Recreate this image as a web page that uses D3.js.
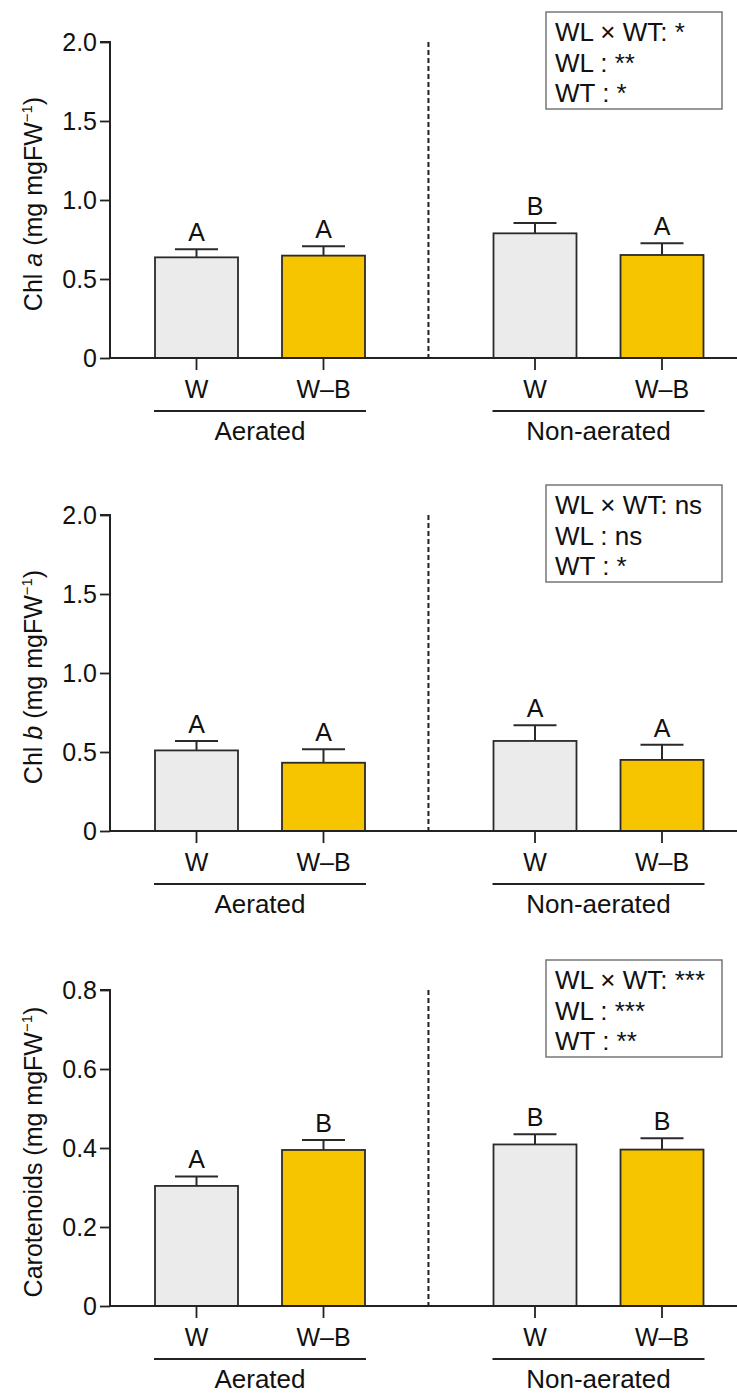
<!DOCTYPE html>
<html>
<head>
<meta charset="utf-8">
<script src="https://cdn.jsdelivr.net/npm/d3@7"></script>
<style>
  html, body { margin: 0; padding: 0; background: #fff; }
  svg { display: block; }
  text { font-family: "Liberation Sans", Arial, sans-serif; fill: #111; }
</style>
</head>
<body>
<svg id="chart" width="737" height="1394"></svg>
<script>
// ---- data ----
const groups = ["Aerated", "Non-aerated"];
const treatments = ["W", "W\u2013B"];

const chlA      = [0.637, 0.648, 0.789, 0.652];
const chlAErr   = [0.051, 0.059, 0.066, 0.074];
const chlALetters = ["A", "A", "B", "A"];

const chlB      = [0.510, 0.432, 0.570, 0.450];
const chlBErr   = [0.060, 0.085, 0.100, 0.096];
const chlBLetters = ["A", "A", "A", "A"];

const carot     = [0.304, 0.395, 0.409, 0.396];
const carotErr  = [0.024, 0.025, 0.026, 0.029];
const carotLetters = ["A", "B", "B", "B"];

const ticksChl = [0, 0.5, 1.0, 1.5, 2.0];
const tickLabelsChl = ["0", "0.5", "1.0", "1.5", "2.0"];
const ticksCar = [0, 0.2, 0.4, 0.6, 0.8];
const tickLabelsCar = ["0", "0.2", "0.4", "0.6", "0.8"];

const statsA = ["WL \u00d7 WT: *", "WL : **", "WT : *"];
const statsB = ["WL \u00d7 WT: ns", "WL : ns", "WT : *"];
const statsC = ["WL \u00d7 WT: ***", "WL : ***", "WT : **"];

// ---- layout ----
const svg = d3.select("#chart");
const FONT = 25;
const axisX = 110;
const plotH = 316;
const barW = 83;
const colors = ["#ebebeb", "#f7c400"];

const xGroup = d3.scalePoint().domain(groups).range([260, 598.5]);
const xInner = d3.scalePoint().domain(treatments).range([-63.5, 63.5]);

const panels = [
  { top: 42,  values: chlA,  errs: chlAErr,  letters: chlALetters,  max: 2.0, ticks: ticksChl, labels: tickLabelsChl, title: ["Chl ", "a", " (mg mgFW"], stats: statsA },
  { top: 515, values: chlB,  errs: chlBErr,  letters: chlBLetters,  max: 2.0, ticks: ticksChl, labels: tickLabelsChl, title: ["Chl ", "b", " (mg mgFW"], stats: statsB },
  { top: 990, values: carot, errs: carotErr, letters: carotLetters, max: 0.8, ticks: ticksCar, labels: tickLabelsCar, title: ["Carotenoids", "", " (mg mgFW"], stats: statsC }
];

panels.forEach(p => {
  const bottom = p.top + plotH;
  const y = d3.scaleLinear().domain([0, p.max]).range([bottom, p.top]);
  const g = svg.append("g");

  const rows = p.values.map((v, i) => ({
    group: groups[Math.floor(i / 2)],
    treat: treatments[i % 2],
    ti: i % 2,
    v, e: p.errs[i], letter: p.letters[i]
  }));
  const cx = d => xGroup(d.group) + xInner(d.treat);

  // dashed separator
  const sepX = (xGroup(groups[0]) + xGroup(groups[1])) / 2 - 0.8;
  g.append("line")
    .attr("x1", sepX).attr("x2", sepX)
    .attr("y1", y(p.max)).attr("y2", bottom)
    .attr("stroke", "#222").attr("stroke-width", 2)
    .attr("stroke-dasharray", "5,3");

  // error bars
  rows.forEach(d => {
    g.append("line").attr("x1", cx(d)).attr("x2", cx(d))
      .attr("y1", y(d.v)).attr("y2", y(d.v + d.e))
      .attr("stroke", "#2a2a2a").attr("stroke-width", 2);
    g.append("line").attr("x1", cx(d) - 21.5).attr("x2", cx(d) + 21.5)
      .attr("y1", y(d.v + d.e)).attr("y2", y(d.v + d.e))
      .attr("stroke", "#2a2a2a").attr("stroke-width", 2);
    g.append("text").attr("x", cx(d)).attr("y", y(d.v + d.e) - 8)
      .attr("text-anchor", "middle").attr("font-size", FONT)
      .text(d.letter);
  });

  // bars
  g.selectAll("rect.bar").data(rows).enter().append("rect")
    .attr("class", "bar")
    .attr("x", d => cx(d) - barW / 2)
    .attr("width", barW)
    .attr("y", d => y(d.v))
    .attr("height", d => bottom - y(d.v))
    .attr("fill", d => colors[d.ti])
    .attr("stroke", "#2a2a2a").attr("stroke-width", 1.8);

  // y axis
  const yAxis = d3.axisLeft(y).tickValues(p.ticks)
    .tickFormat((d, i) => p.labels[i]).tickSize(10).tickPadding(3);
  const ya = g.append("g").attr("transform", `translate(${axisX},0)`).call(yAxis);
  ya.select(".domain").attr("stroke", "#222").attr("stroke-width", 2)
    .attr("d", `M-10,${p.top}H0V${bottom}`);
  ya.selectAll(".tick line").attr("stroke", "#222").attr("stroke-width", 1.8);
  ya.selectAll(".tick text").attr("font-size", FONT).attr("fill", "#111")
    .attr("font-family", '"Liberation Sans", Arial, sans-serif');

  // x axis line
  g.append("line").attr("x1", axisX).attr("x2", 737)
    .attr("y1", bottom).attr("y2", bottom)
    .attr("stroke", "#222").attr("stroke-width", 2);

  // x ticks and labels
  rows.forEach(d => {
    g.append("line").attr("x1", cx(d)).attr("x2", cx(d))
      .attr("y1", bottom).attr("y2", bottom + 12)
      .attr("stroke", "#222").attr("stroke-width", 1.8);
    g.append("text").attr("x", cx(d)).attr("y", bottom + 40)
      .attr("text-anchor", "middle").attr("font-size", FONT)
      .text(d.treat);
  });

  // group underlines and labels
  groups.forEach(gr => {
    const c = xGroup(gr);
    g.append("line").attr("x1", c - 106).attr("x2", c + 106)
      .attr("y1", bottom + 53).attr("y2", bottom + 53)
      .attr("stroke", "#222").attr("stroke-width", 1.8);
    g.append("text").attr("x", c).attr("y", bottom + 82)
      .attr("text-anchor", "middle").attr("font-size", 26)
      .text(gr);
  });

  // y title
  const tcx = 33, tcy = p.top + plotH / 2 + 4;
  const t = g.append("text")
    .attr("transform", `translate(${tcx},${tcy}) rotate(-90)`)
    .attr("text-anchor", "middle").attr("dy", "0.35em")
    .attr("font-size", FONT);
  t.append("tspan").text(p.title[0]);
  if (p.title[1]) t.append("tspan").attr("font-style", "italic").text(p.title[1]);
  t.append("tspan").text(p.title[2]);
  t.append("tspan").attr("font-size", 15).attr("dy", -10).text("\u22121");
  t.append("tspan").attr("dy", 10).text(")");

  // stats box
  const bx = 546, by = p.top - 30, bw = 176, bh = 97;
  g.append("rect").attr("x", bx).attr("y", by).attr("width", bw).attr("height", bh)
    .attr("fill", "#fff").attr("stroke", "#777").attr("stroke-width", 1.5);
  p.stats.forEach((s, i) => {
    g.append("text").attr("x", bx + 9).attr("y", by + 29 + i * 30.5)
      .attr("font-size", 26).text(s);
  });
});
</script>
</body>
</html>
